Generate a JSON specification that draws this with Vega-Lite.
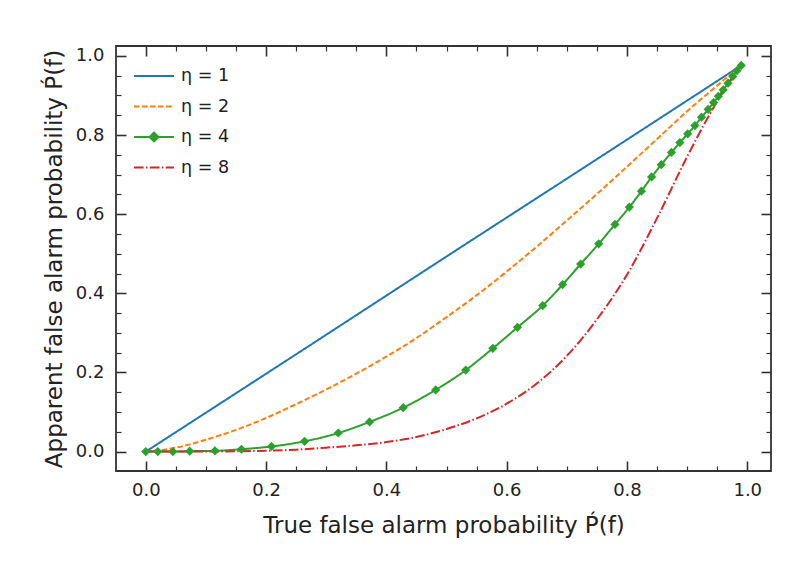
{
  "$schema": "https://vega.github.io/schema/vega-lite/v6.json",
  "width": 655,
  "height": 425,
  "autosize": "none",
  "padding": {"left": 116, "top": 46, "right": 35, "bottom": 90},
  "background": "white",
  "config": {
    "view": {"stroke": "#333333", "strokeWidth": 1.8},
    "font": "DejaVu Sans"
  },
  "datasets": {
    "curves": [
      {"eta": "η = 1", "x": 0, "y": 0},
      {"eta": "η = 1", "x": 0.25, "y": 0.246},
      {"eta": "η = 1", "x": 0.5, "y": 0.493},
      {"eta": "η = 1", "x": 0.75, "y": 0.739},
      {"eta": "η = 1", "x": 0.99, "y": 0.976},

      {"eta": "η = 2", "x": 0, "y": 0},
      {"eta": "η = 2", "x": 0.05, "y": 0.01},
      {"eta": "η = 2", "x": 0.1, "y": 0.03},
      {"eta": "η = 2", "x": 0.15, "y": 0.055},
      {"eta": "η = 2", "x": 0.2, "y": 0.085},
      {"eta": "η = 2", "x": 0.25, "y": 0.12},
      {"eta": "η = 2", "x": 0.3, "y": 0.157},
      {"eta": "η = 2", "x": 0.35, "y": 0.197},
      {"eta": "η = 2", "x": 0.4, "y": 0.24},
      {"eta": "η = 2", "x": 0.45, "y": 0.287},
      {"eta": "η = 2", "x": 0.5, "y": 0.34},
      {"eta": "η = 2", "x": 0.55, "y": 0.395},
      {"eta": "η = 2", "x": 0.6, "y": 0.455},
      {"eta": "η = 2", "x": 0.65, "y": 0.518},
      {"eta": "η = 2", "x": 0.7, "y": 0.584},
      {"eta": "η = 2", "x": 0.75, "y": 0.651},
      {"eta": "η = 2", "x": 0.8, "y": 0.72},
      {"eta": "η = 2", "x": 0.85, "y": 0.79},
      {"eta": "η = 2", "x": 0.9, "y": 0.86},
      {"eta": "η = 2", "x": 0.95, "y": 0.925},
      {"eta": "η = 2", "x": 0.99, "y": 0.976},

      {"eta": "η = 4", "x": 0, "y": 0},
      {"eta": "η = 4", "x": 0.02, "y": 0},
      {"eta": "η = 4", "x": 0.045, "y": 0},
      {"eta": "η = 4", "x": 0.073, "y": 0.001},
      {"eta": "η = 4", "x": 0.115, "y": 0.002},
      {"eta": "η = 4", "x": 0.159, "y": 0.006},
      {"eta": "η = 4", "x": 0.209, "y": 0.013},
      {"eta": "η = 4", "x": 0.264, "y": 0.026},
      {"eta": "η = 4", "x": 0.32, "y": 0.047},
      {"eta": "η = 4", "x": 0.372, "y": 0.075},
      {"eta": "η = 4", "x": 0.428, "y": 0.111},
      {"eta": "η = 4", "x": 0.482, "y": 0.156},
      {"eta": "η = 4", "x": 0.532, "y": 0.206},
      {"eta": "η = 4", "x": 0.577, "y": 0.261},
      {"eta": "η = 4", "x": 0.618, "y": 0.314},
      {"eta": "η = 4", "x": 0.66, "y": 0.369},
      {"eta": "η = 4", "x": 0.693, "y": 0.422},
      {"eta": "η = 4", "x": 0.723, "y": 0.474},
      {"eta": "η = 4", "x": 0.753, "y": 0.525},
      {"eta": "η = 4", "x": 0.78, "y": 0.574},
      {"eta": "η = 4", "x": 0.804, "y": 0.618},
      {"eta": "η = 4", "x": 0.824, "y": 0.658},
      {"eta": "η = 4", "x": 0.841, "y": 0.694},
      {"eta": "η = 4", "x": 0.857, "y": 0.725},
      {"eta": "η = 4", "x": 0.874, "y": 0.756},
      {"eta": "η = 4", "x": 0.888, "y": 0.781},
      {"eta": "η = 4", "x": 0.901, "y": 0.803},
      {"eta": "η = 4", "x": 0.913, "y": 0.824},
      {"eta": "η = 4", "x": 0.924, "y": 0.845},
      {"eta": "η = 4", "x": 0.935, "y": 0.865},
      {"eta": "η = 4", "x": 0.944, "y": 0.882},
      {"eta": "η = 4", "x": 0.952, "y": 0.898},
      {"eta": "η = 4", "x": 0.96, "y": 0.914},
      {"eta": "η = 4", "x": 0.968, "y": 0.931},
      {"eta": "η = 4", "x": 0.976, "y": 0.948},
      {"eta": "η = 4", "x": 0.983, "y": 0.963},
      {"eta": "η = 4", "x": 0.99, "y": 0.976},

      {"eta": "η = 8", "x": 0, "y": 0},
      {"eta": "η = 8", "x": 0.05, "y": 0},
      {"eta": "η = 8", "x": 0.1, "y": 0},
      {"eta": "η = 8", "x": 0.15, "y": 0.001},
      {"eta": "η = 8", "x": 0.2, "y": 0.002},
      {"eta": "η = 8", "x": 0.25, "y": 0.005},
      {"eta": "η = 8", "x": 0.3, "y": 0.01},
      {"eta": "η = 8", "x": 0.35, "y": 0.016},
      {"eta": "η = 8", "x": 0.4, "y": 0.024},
      {"eta": "η = 8", "x": 0.45, "y": 0.037},
      {"eta": "η = 8", "x": 0.5, "y": 0.057},
      {"eta": "η = 8", "x": 0.55, "y": 0.084},
      {"eta": "η = 8", "x": 0.6, "y": 0.121},
      {"eta": "η = 8", "x": 0.65, "y": 0.172},
      {"eta": "η = 8", "x": 0.7, "y": 0.242},
      {"eta": "η = 8", "x": 0.75, "y": 0.334},
      {"eta": "η = 8", "x": 0.8, "y": 0.447},
      {"eta": "η = 8", "x": 0.85, "y": 0.59},
      {"eta": "η = 8", "x": 0.9, "y": 0.745},
      {"eta": "η = 8", "x": 0.95, "y": 0.885},
      {"eta": "η = 8", "x": 0.99, "y": 0.976}
    ]
  },
  "data": {"name": "curves"},
  "layer": [
    {
      "mark": {"type": "line", "strokeWidth": 2, "interpolate": "monotone"},
      "encoding": {
        "x": {
          "field": "x", "type": "quantitative",
          "scale": {"domain": [-0.0495, 1.0395], "nice": false, "zero": false},
          "axis": {
            "orient": "bottom",
            "values": [0,0.05,0.1,0.15,0.2,0.25,0.3,0.35,0.4,0.45,0.5,0.55,0.6,0.65,0.7,0.75,0.8,0.85,0.9,0.95,1],
            "labelExpr": "abs(datum.value*5-round(datum.value*5))<0.001 ? format(datum.value, '.1f') : ''",
            "labelOverlap": false,
            "labelFont": "DejaVu Sans", "labelFontSize": 18, "labelColor": "#222222",
            "labelPadding": 20,
            "tickSize": {"condition": {"test": "abs(datum.value*5-round(datum.value*5))<0.001", "value": -10}, "value": -5},
            "tickWidth": {"condition": {"test": "abs(datum.value*5-round(datum.value*5))<0.001", "value": 1.6}, "value": 1.2},
            "tickColor": "#333333",
            "domain": false, "grid": false,
            "title": "True false alarm probability P\u0301(f)",
            "titleFont": "DejaVu Sans", "titleFontSize": 23, "titleFontWeight": "normal", "titleColor": "#222222",
            "titlePadding": 10
          }
        },
        "y": {
          "field": "y", "type": "quantitative",
          "scale": {"domain": [-0.049, 1.025], "nice": false, "zero": false},
          "axis": {
            "orient": "left",
            "values": [0,0.05,0.1,0.15,0.2,0.25,0.3,0.35,0.4,0.45,0.5,0.55,0.6,0.65,0.7,0.75,0.8,0.85,0.9,0.95,1],
            "labelExpr": "abs(datum.value*5-round(datum.value*5))<0.001 ? format(datum.value, '.1f') : ''",
            "labelOverlap": false,
            "labelFont": "DejaVu Sans", "labelFontSize": 18, "labelColor": "#222222",
            "labelPadding": 22,
            "tickSize": {"condition": {"test": "abs(datum.value*5-round(datum.value*5))<0.001", "value": -10}, "value": -5},
            "tickWidth": {"condition": {"test": "abs(datum.value*5-round(datum.value*5))<0.001", "value": 1.6}, "value": 1.2},
            "tickColor": "#333333",
            "domain": false, "grid": false,
            "title": "Apparent false alarm probability P\u0301(f)",
            "titleFont": "DejaVu Sans", "titleFontSize": 23, "titleFontWeight": "normal", "titleColor": "#222222",
            "titlePadding": 9
          }
        },
        "color": {
          "field": "eta", "type": "nominal",
          "scale": {"domain": ["η = 1", "η = 2", "η = 4", "η = 8"], "range": ["#1f77b4", "#ff7f0e", "#2ca02c", "#d62728"]},
          "legend": {
            "orient": "none", "legendX": 17, "legendY": 9, "title": null,
            "symbolType": "stroke", "symbolSize": 1600, "symbolStrokeWidth": 2,
            "labelFont": "DejaVu Sans", "labelFontSize": 17.5, "labelColor": "#222222",
            "labelOffset": 6, "rowPadding": 0.5, "padding": 0,
            "encode": {
              "symbols": {
                "update": {
                  "shape": {"signal": "datum.value === 'η = 4' ? 'M-1,0H1M0,-0.22L0.22,0L0,0.22L-0.22,0Z' : 'stroke'"},
                  "fill": {"signal": "datum.value === 'η = 4' ? '#2ca02c' : 'transparent'"}
                }
              }
            }
          }
        },
        "strokeDash": {
          "field": "eta", "type": "nominal",
          "scale": {"domain": ["η = 1", "η = 2", "η = 4", "η = 8"], "range": [[1, 0], [5.5, 2.5], [1, 0], [9.6, 2.4, 1.5, 2.4]]}
        }
      }
    },
    {
      "transform": [{"filter": "datum.eta === 'η = 4'"}],
      "mark": {"type": "point", "shape": "diamond", "filled": true, "size": 85, "opacity": 1, "color": "#2ca02c"},
      "encoding": {
        "x": {
          "field": "x", "type": "quantitative",
          "scale": {"domain": [-0.0495, 1.0395], "nice": false, "zero": false},
          "axis": {
            "orient": "top",
            "values": [0,0.05,0.1,0.15,0.2,0.25,0.3,0.35,0.4,0.45,0.5,0.55,0.6,0.65,0.7,0.75,0.8,0.85,0.9,0.95,1],
            "labels": false, "title": null,
            "tickSize": {"condition": {"test": "abs(datum.value*5-round(datum.value*5))<0.001", "value": -10}, "value": -5},
            "tickWidth": {"condition": {"test": "abs(datum.value*5-round(datum.value*5))<0.001", "value": 1.6}, "value": 1.2},
            "tickColor": "#333333",
            "domain": false, "grid": false
          }
        },
        "y": {
          "field": "y", "type": "quantitative",
          "scale": {"domain": [-0.049, 1.025], "nice": false, "zero": false},
          "axis": {
            "orient": "right",
            "values": [0,0.05,0.1,0.15,0.2,0.25,0.3,0.35,0.4,0.45,0.5,0.55,0.6,0.65,0.7,0.75,0.8,0.85,0.9,0.95,1],
            "labels": false, "title": null,
            "tickSize": {"condition": {"test": "abs(datum.value*5-round(datum.value*5))<0.001", "value": -10}, "value": -5},
            "tickWidth": {"condition": {"test": "abs(datum.value*5-round(datum.value*5))<0.001", "value": 1.6}, "value": 1.2},
            "tickColor": "#333333",
            "domain": false, "grid": false
          }
        }
      }
    }
  ],
  "resolve": {"axis": {"x": "independent", "y": "independent"}}
}
